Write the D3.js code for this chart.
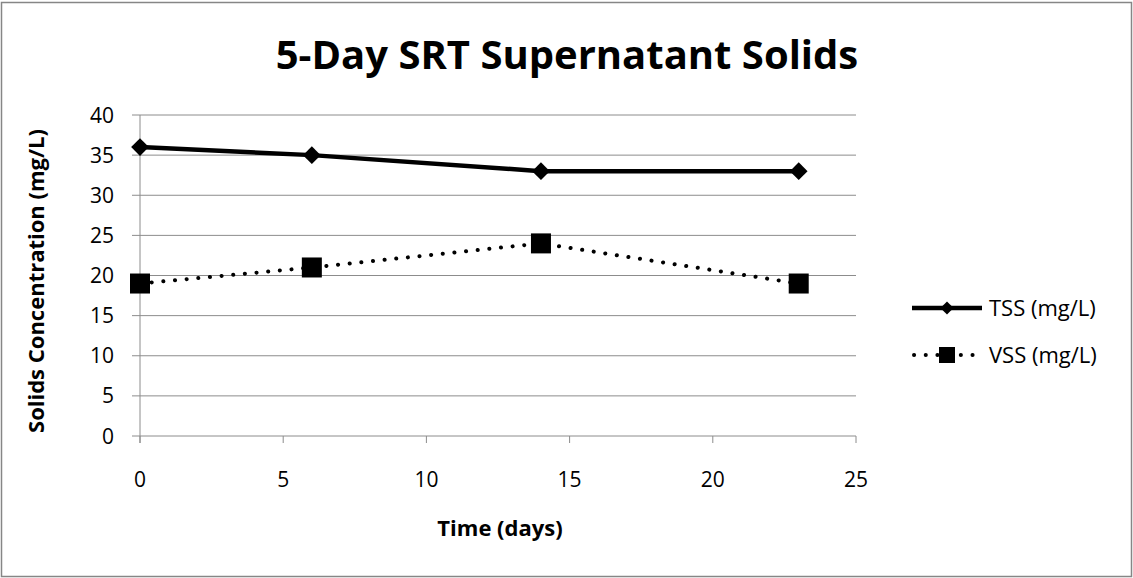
<!DOCTYPE html>
<html>
<head>
<meta charset="utf-8">
<script src="https://d3js.org/d3.v7.min.js"></script>
<style>
  body { margin: 0; background: #fff; }
  text { font-family: "Open Sans", sans-serif; fill: #000; }
</style>
</head>
<body>
<script>
// chart data
var days = [0, 6, 14, 23];
var tss = [36, 35, 33, 33];
var vss = [19, 21, 24, 19];
var xTicks = [0, 5, 10, 15, 20, 25];
var yTicks = [0, 5, 10, 15, 20, 25, 30, 35, 40];
var seriesNames = ["TSS (mg/L)", "VSS (mg/L)"];

var W = 1133, H = 578;
var plotL = 140, plotR = 856, plotT = 115, plotB = 436;

var svg = d3.select("body").append("svg")
  .attr("width", W)
  .attr("height", H);

// outer chart border
svg.append("rect")
  .attr("x", 1.5).attr("y", 2.5)
  .attr("width", W - 3).attr("height", H - 4)
  .style("fill", "#fff")
  .style("stroke", "#868686")
  .style("stroke-width", 1.5);

var x = d3.scaleLinear().domain([0, 25]).range([plotL, plotR]);
var y = d3.scaleLinear().domain([0, 40]).range([plotB, plotT]);

// gridlines
svg.append("g").selectAll("line")
  .data(yTicks)
  .enter().append("line")
  .attr("x1", plotL - 8).attr("x2", plotR)
  .attr("y1", function(d) { return y(d); })
  .attr("y2", function(d) { return y(d); })
  .style("stroke", "#8c8c8c")
  .style("stroke-width", 1);

// y axis line
svg.append("line")
  .attr("x1", plotL).attr("x2", plotL)
  .attr("y1", plotT).attr("y2", plotB + 7)
  .style("stroke", "#8c8c8c");

// x ticks
svg.append("g").selectAll("line")
  .data(xTicks)
  .enter().append("line")
  .attr("x1", function(d) { return x(d); })
  .attr("x2", function(d) { return x(d); })
  .attr("y1", plotB).attr("y2", plotB + 7)
  .style("stroke", "#8c8c8c");

// tick labels
svg.append("g").selectAll("text")
  .data(yTicks)
  .enter().append("text")
  .attr("x", 114)
  .attr("y", function(d) { return y(d) + 7.5; })
  .attr("text-anchor", "end")
  .attr("font-size", "21px")
  .text(function(d) { return d; });

svg.append("g").selectAll("text")
  .data(xTicks)
  .enter().append("text")
  .attr("x", function(d) { return x(d); })
  .attr("y", 487)
  .attr("text-anchor", "middle")
  .attr("font-size", "21px")
  .text(function(d) { return d; });

// title
svg.append("text")
  .attr("x", 567)
  .attr("y", 69)
  .attr("text-anchor", "middle")
  .attr("font-size", "40px")
  .attr("font-weight", "bold")
  .text("5-Day SRT Supernatant Solids");

// axis titles
svg.append("text")
  .attr("x", 500)
  .attr("y", 536)
  .attr("text-anchor", "middle")
  .attr("font-size", "22px")
  .attr("font-weight", "bold")
  .text("Time (days)");

svg.append("text")
  .attr("transform", "translate(44,281) rotate(-90)")
  .attr("text-anchor", "middle")
  .attr("font-size", "22px")
  .attr("font-weight", "bold")
  .text("Solids Concentration (mg/L)");

var line = d3.line()
  .x(function(d) { return x(d[0]); })
  .y(function(d) { return y(d[1]); });

var tssPts = d3.zip(days, tss);
var vssPts = d3.zip(days, vss);

svg.append("path")
  .datum(tssPts)
  .attr("d", line)
  .style("fill", "none")
  .style("stroke", "#000")
  .style("stroke-width", 4.5);

svg.append("path")
  .datum(vssPts)
  .attr("d", line)
  .style("fill", "none")
  .style("stroke", "#000")
  .style("stroke-width", 4)
  .style("stroke-linecap", "round")
  .style("stroke-dasharray", "0.1,11.6");

var diamond = d3.symbol().type(d3.symbolDiamond2).size(200);

svg.append("g").selectAll("path")
  .data(tssPts)
  .enter().append("path")
  .attr("d", diamond)
  .attr("transform", function(d) { return "translate(" + x(d[0]) + "," + y(d[1]) + ")"; })
  .style("fill", "#000");

svg.append("g").selectAll("rect")
  .data(vssPts)
  .enter().append("rect")
  .attr("x", function(d) { return x(d[0]) - 10; })
  .attr("y", function(d) { return y(d[1]) - 10; })
  .attr("width", 20).attr("height", 20)
  .style("fill", "#000");

// legend
var legY = [308, 355];
svg.append("line")
  .attr("x1", 912).attr("x2", 982)
  .attr("y1", legY[0]).attr("y2", legY[0])
  .style("stroke", "#000").style("stroke-width", 4.5);
svg.append("path")
  .attr("d", d3.symbol().type(d3.symbolDiamond2).size(110))
  .attr("transform", "translate(947," + legY[0] + ")")
  .style("fill", "#000");

svg.append("line")
  .attr("x1", 914).attr("x2", 980)
  .attr("y1", legY[1]).attr("y2", legY[1])
  .style("stroke", "#000").style("stroke-width", 4)
  .style("stroke-linecap", "round")
  .style("stroke-dasharray", "0.1,11.6");
svg.append("rect")
  .attr("x", 939).attr("y", legY[1] - 8)
  .attr("width", 16).attr("height", 16)
  .style("fill", "#000");

svg.append("g").selectAll("text")
  .data(seriesNames)
  .enter().append("text")
  .attr("x", 989)
  .attr("y", function(d, i) { return legY[i] + 8; })
  .attr("font-size", "22px")
  .text(function(d) { return d; });
</script>
</body>
</html>
